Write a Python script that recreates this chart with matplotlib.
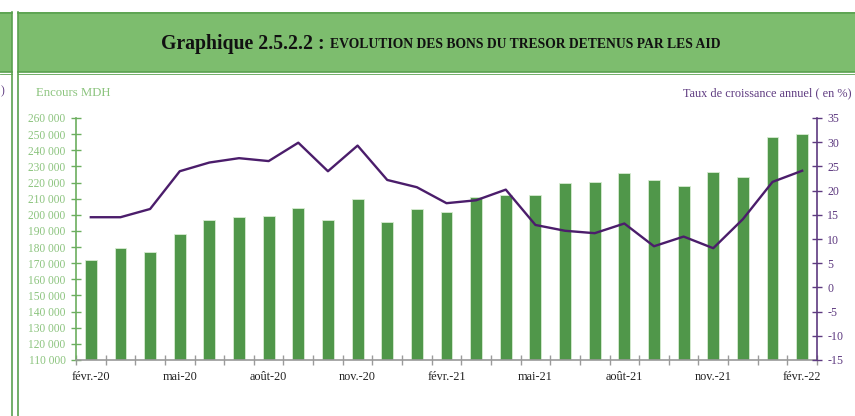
"""Graphique 2.5.2.2 : evolution des bons du tresor detenus par les AID."""

import matplotlib.pyplot as plt
import numpy as np
from matplotlib.patches import Rectangle

# --- Data ---------------------------------------------------------------------
MONTHS = [
    "févr.-20", "mars-20", "avr.-20", "mai-20", "juin-20", "juil.-20", "août-20",
    "sept.-20", "oct.-20", "nov.-20", "déc.-20", "janv.-21", "févr.-21",
    "mars-21", "avr.-21", "mai-21", "juin-21", "juil.-21", "août-21",
    "sept.-21", "oct.-21", "nov.-21", "déc.-21", "janv.-22", "févr.-22",
]
ENCOURS_MDH = [
    171800, 179300, 176800, 188300, 196800, 198400, 199200, 204200, 197000,
    209600, 195700, 203800, 201600, 211000, 212300, 212500, 219700, 220500,
    225700, 221800, 217600, 226500, 223200, 248400, 250300,
]
TAUX_CROISSANCE = [
    14.5, 14.5, 16.2, 24.0, 25.8, 26.7, 26.1, 29.9, 24.0, 29.3, 22.2, 20.7,
    17.4, 18.0, 20.2, 12.9, 11.7, 11.2, 13.2, 8.5, 10.5, 8.1, 14.1, 21.8, 24.1,
]
LABEL_EVERY = 3

# --- Style --------------------------------------------------------------------
BAR_GREEN = "#50974a"
LINE_PURPLE = "#4b1d6b"
AXIS_GREEN = "#6cae5f"
TICK_GREEN = "#8cc47e"
TEXT_PURPLE = "#5e3a80"
HEADER_GREEN = "#7dbd6e"
BORDER_GREEN = "#5aa14f"

plt.rcParams["font.family"] = ["Liberation Serif", "DejaVu Serif"]
plt.rcParams["axes.unicode_minus"] = False

W, H = 855, 416
fig = plt.figure(figsize=(W / 100, H / 100), dpi=100)


def fx(px):
    return px / W


def fy(py):
    return 1 - py / H


# --- Frame: header bands and panel borders ------------------------------------
fig.patches.append(Rectangle((0, fy(72)), fx(12), fy(12) - fy(72), transform=fig.transFigure,
                             facecolor=HEADER_GREEN, edgecolor="none"))
fig.patches.append(Rectangle((fx(18), fy(72)), 1 - fx(18), fy(12) - fy(72),
                             transform=fig.transFigure, facecolor=HEADER_GREEN,
                             edgecolor="none"))
for x0, x1 in [(0, fx(12)), (fx(18), 1)]:
    fig.add_artist(plt.Line2D([x0, x1], [fy(12.5), fy(12.5)], color=BORDER_GREEN, lw=1.2))
    fig.add_artist(plt.Line2D([x0, x1], [fy(71.5), fy(71.5)], color=BORDER_GREEN, lw=1.2))
    fig.add_artist(plt.Line2D([x0, x1], [fy(73.5), fy(73.5)], color=BORDER_GREEN, lw=0.6))
fig.add_artist(plt.Line2D([fx(12), fx(12)], [0, fy(12)], color=BORDER_GREEN, lw=1.2))
fig.add_artist(plt.Line2D([fx(18), fx(18)], [0, fy(12)], color=BORDER_GREEN, lw=1.2))

fig.text(fx(325), fy(44), "Graphique 2.5.2.2 :", ha="right", va="center",
         fontsize=14.2, fontweight="bold", color="#111111")
fig.text(fx(330), fy(45), "EVOLUTION DES BONS DU TRESOR DETENUS PAR LES AID",
         ha="left", va="center", fontsize=9.8, fontweight="bold", color="#111111")
fig.text(fx(0.5), fy(91), ")", ha="left", va="center", fontsize=8.5, color=TEXT_PURPLE)

fig.text(fx(36), fy(93), "Encours MDH", ha="left", va="center", fontsize=9.2,
         color=TICK_GREEN)
fig.text(fx(851), fy(93), "Taux de croissance annuel ( en %)", ha="right", va="center",
         fontsize=8.8, color=TEXT_PURPLE)

# --- Chart ----------------------------------------------------------------------
ax = fig.add_axes([fx(76), fy(360), fx(817) - fx(76), fy(118) - fy(360)])
x = np.arange(len(MONTHS))
ax.bar(x, ENCOURS_MDH, width=0.4, color=BAR_GREEN, edgecolor="#d8ecd2",
       linewidth=0.6, zorder=2)
ax.set_ylim(110000, 260000)
ax.set_xlim(-0.5, len(MONTHS) - 0.5)
ax.set_yticks(np.arange(110000, 260001, 10000))
ax.set_yticklabels([f"{v // 1000} 000" for v in range(110000, 260001, 10000)])
ax.tick_params(axis="y", colors=AXIS_GREEN, labelcolor=TICK_GREEN, labelsize=8.3,
               direction="inout", length=7, width=1, pad=4)

ax.set_xticks(x[::LABEL_EVERY])
ax.set_xticklabels(MONTHS[::LABEL_EVERY], fontsize=8.8, color="#222222")
ax.set_xticks(np.arange(-0.5, len(MONTHS), 1), minor=True)
ax.tick_params(axis="x", which="major", length=0, pad=8)
ax.tick_params(axis="x", which="minor", colors="#9a9a9a", direction="inout",
               length=7, width=1)

for side in ("top", "right"):
    ax.spines[side].set_visible(False)
ax.spines["left"].set_color(AXIS_GREEN)
ax.spines["left"].set_linewidth(1.2)
ax.spines["bottom"].set_color("#9a9a9a")
ax.spines["bottom"].set_linewidth(1.2)
ax.patch.set_alpha(0)

ax2 = ax.twinx()
ax2.plot(x, TAUX_CROISSANCE, color=LINE_PURPLE, linewidth=1.7, zorder=3)
ax2.set_ylim(-15, 35)
ax2.set_yticks(np.arange(-15, 36, 5))
ax2.tick_params(axis="y", colors=TEXT_PURPLE, labelcolor=TEXT_PURPLE, labelsize=8.6,
                direction="inout", length=7, width=1, pad=4)
for side in ("top", "left", "bottom"):
    ax2.spines[side].set_visible(False)
ax2.spines["right"].set_color(TEXT_PURPLE)
ax2.spines["right"].set_linewidth(1.2)

fig.savefig("out.png", dpi=100)
